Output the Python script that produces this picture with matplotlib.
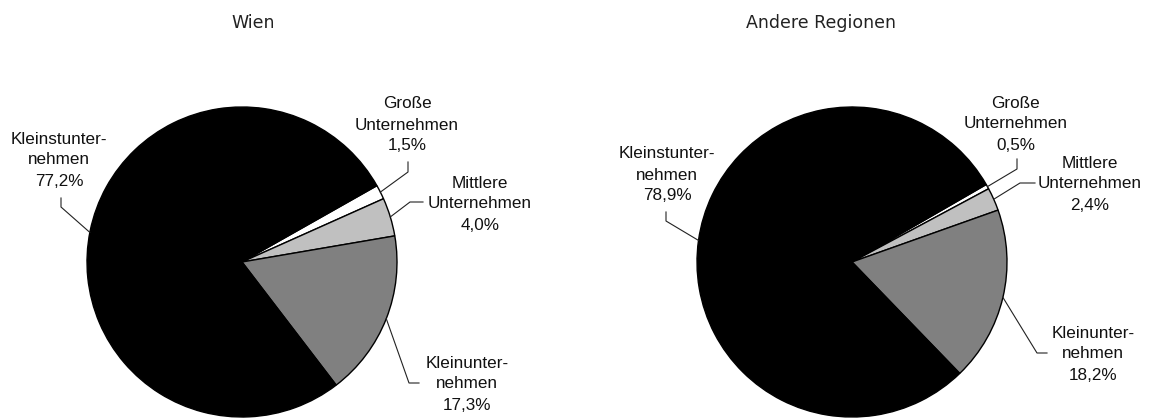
import numpy as np
import matplotlib
matplotlib.use("Agg")
import matplotlib.pyplot as plt

W, H = 1150, 418

titles = ["Wien", "Andere Regionen"]
categories = ["Große\nUnternehmen", "Mittlere\nUnternehmen", "Kleinunter-\nnehmen", "Kleinstunter-\nnehmen"]
wien = [1.5, 4.0, 17.3, 77.2]
andere = [0.5, 2.4, 18.2, 78.9]
colors = ["#ffffff", "#c0c0c0", "#808080", "#000000"]

# layout in pixels (top-left origin): pie centre, radius, title position
PIES = [
    dict(values=wien, cx=242, cy=262, r=155, start=29.5, title=(253, 23),
         text=[(407, 125), (480, 204), (467, 384), (59, 160)],
         attach=[None, None, None, 169],
         elbow=[(408, 172), (410, 202), (409, 383), (61, 207)],
         end=[(408, 162), (423, 202), (419, 383), (61, 198)]),
    dict(values=andere, cx=852, cy=262, r=155, start=30.0, title=(821, 23),
         text=[(1016, 124), (1090, 184), (1093, 354), (667, 175)],
         attach=[None, None, None, 172],
         elbow=[(1017, 169), (1020, 183), (1037, 353), (666, 221)],
         end=[(1017, 159), (1035, 183), (1047, 353), (666, 212)]),
]

LABEL_FONT = dict(family="Liberation Sans", size=12.3)

fig = plt.figure(figsize=(W / 100, H / 100), dpi=100)

for name, p in zip(titles, PIES):
    cx, cy, r = p["cx"], p["cy"], p["r"]
    ax = fig.add_axes([(cx - r) / W, (H - cy - r) / H, 2 * r / W, 2 * r / H])

    def to_data(x, y):
        return (x - cx) / r, (cy - y) / r

    wedges, _ = ax.pie(
        p["values"],
        colors=colors,
        startangle=p["start"],
        counterclock=False,
        wedgeprops=dict(edgecolor="black", linewidth=1.0),
    )
    for w in wedges:
        w.set_clip_on(False)
    ax.set_aspect("auto")
    ax.set_xlim(-1, 1)
    ax.set_ylim(-1, 1)
    ax.axis("off")

    tx, ty = to_data(*p["title"])
    ax.text(tx, ty, name, ha="center", va="center", fontsize=12.5,
            family="DejaVu Sans", color="#222222", clip_on=False)

    for i, (cat, val) in enumerate(zip(categories, p["values"])):
        label = cat + "\n" + f"{val:.1f}".replace(".", ",") + "%"
        x, y = to_data(*p["text"][i])
        ax.text(x, y, label, ha="center", va="center", linespacing=1.5,
                color="#111111", clip_on=False, **LABEL_FONT)

        w = wedges[i]
        ang = p["attach"][i]
        if ang is None:
            ang = (w.theta1 + w.theta2) / 2
        sx, sy = np.cos(np.radians(ang)), np.sin(np.radians(ang))
        ex, ey = to_data(*p["elbow"][i])
        fx, fy = to_data(*p["end"][i])
        ax.plot([sx, ex, fx], [sy, ey, fy], color="#222222", lw=0.8,
                clip_on=False, solid_joinstyle="miter")

fig.savefig("out.png", dpi=100)
